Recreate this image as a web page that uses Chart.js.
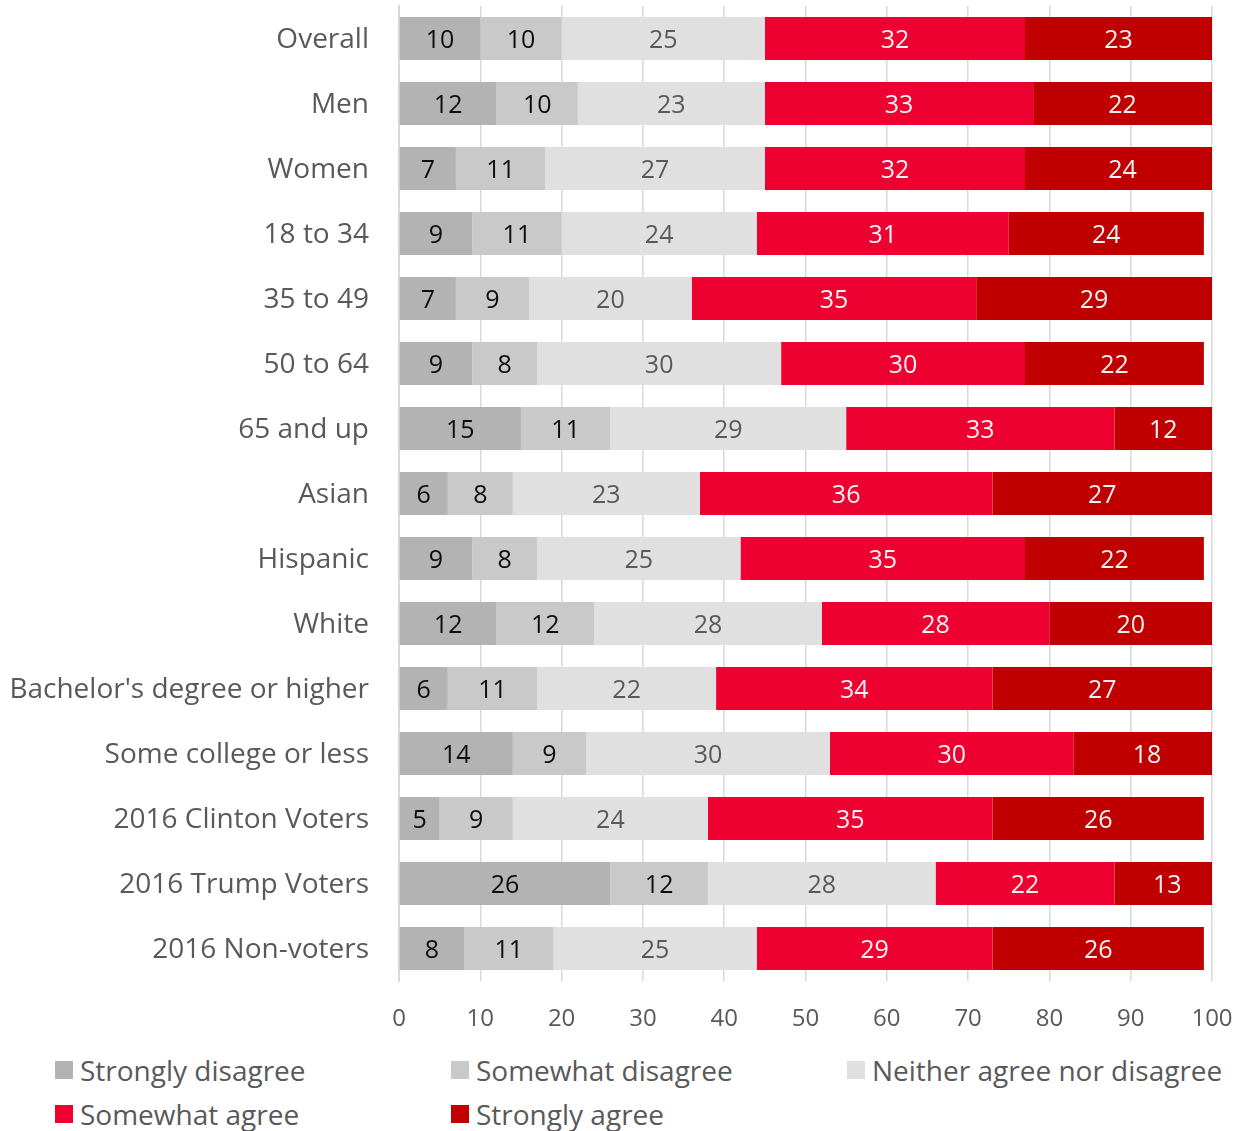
<!DOCTYPE html>
<html>
<head>
<meta charset="utf-8">
<script src="https://cdn.jsdelivr.net/npm/chart.js@4.4.1/dist/chart.umd.min.js"></script>
<style>
  html, body { margin: 0; padding: 0; background: #fff; }
  body { width: 1245px; height: 1131px; position: relative; font-family: 'Open Sans', sans-serif; }
  #wrap { position: absolute; left: 0; top: 0; width: 1245px; height: 1045px; }
  #legend { position: absolute; left: 55px; top: 1052px; width: 1190px; display: grid;
    grid-template-columns: 396px 396px 396px; row-gap: 8px; }
  .item { display: flex; align-items: center; font-size: 28px; color: #595959; height: 36px; white-space: nowrap; }
  .box { width: 18px; height: 18px; margin-right: 7px; flex: none; }
</style>
</head>
<body>
<div id="wrap"><canvas id="chart"></canvas></div>
<div id="legend"></div>
<script>
const groups = [
  'Overall', 'Men', 'Women', '18 to 34', '35 to 49', '50 to 64', '65 and up',
  'Asian', 'Hispanic', 'White', "Bachelor's degree or higher", 'Some college or less',
  '2016 Clinton Voters', '2016 Trump Voters', '2016 Non-voters',
];

const stronglyDisagree = [10, 12, 7, 9, 7, 9, 15, 6, 9, 12, 6, 14, 5, 26, 8];
const somewhatDisagree = [10, 10, 11, 11, 9, 8, 11, 8, 8, 12, 11, 9, 9, 12, 11];
const neither = [25, 23, 27, 24, 20, 30, 29, 23, 25, 28, 22, 30, 24, 28, 25];
const somewhatAgree = [32, 33, 32, 31, 35, 30, 33, 36, 35, 28, 34, 30, 35, 22, 29];
const stronglyAgree = [23, 22, 24, 24, 29, 22, 12, 27, 22, 20, 27, 18, 26, 13, 26];

const xTicks = [0, 10, 20, 30, 40, 50, 60, 70, 80, 90, 100];

const series = [
  { label: 'Strongly disagree', data: stronglyDisagree, color: '#b3b3b3', text: '#0d0d0d' },
  { label: 'Somewhat disagree', data: somewhatDisagree, color: '#c9c9c9', text: '#0d0d0d' },
  { label: 'Neither agree nor disagree', data: neither, color: '#e0e0e0', text: '#595959' },
  { label: 'Somewhat agree', data: somewhatAgree, color: '#ee0030', text: '#f2f2f2' },
  { label: 'Strongly agree', data: stronglyAgree, color: '#c00000', text: '#f2f2f2' },
];

// value labels centred in each segment
const segmentLabels = {
  id: 'segmentLabels',
  afterDatasetsDraw(chart) {
    const ctx = chart.ctx;
    ctx.save();
    ctx.font = '25px "Open Sans"';
    ctx.textAlign = 'center';
    ctx.textBaseline = 'middle';
    chart.data.datasets.forEach((ds, i) => {
      const meta = chart.getDatasetMeta(i);
      ctx.fillStyle = series[i].text;
      meta.data.forEach((bar, j) => {
        const cx = (bar.x + bar.base) / 2;
        ctx.fillText(String(ds.data[j]), cx, bar.y + 2);
      });
    });
    ctx.restore();
  },
};

const chart = new Chart(document.getElementById('chart'), {
  type: 'bar',
  data: {
    labels: groups,
    datasets: series.map((s) => ({
      label: s.label,
      data: s.data,
      backgroundColor: s.color,
      borderWidth: 0,
      barPercentage: 0.66,
      categoryPercentage: 1,
    })),
  },
  options: {
    indexAxis: 'y',
    responsive: true,
    maintainAspectRatio: false,
    animation: false,
    layout: { padding: { top: 6, right: 33, left: 0, bottom: 0 } },
    plugins: {
      legend: { display: false },
      tooltip: { enabled: false },
    },
    scales: {
      x: {
        stacked: true,
        min: 0,
        max: 100,
        afterBuildTicks: (scale) => { scale.ticks = xTicks.map((v) => ({ value: v })); },
        grid: { color: '#d9d9d9', lineWidth: 1.5, drawTicks: false },
        border: { display: false },
        ticks: { color: '#595959', font: { family: 'Open Sans', size: 24 }, padding: 24 },
        afterFit: (scale) => {
          scale.height = 64;
          scale.paddingLeft = 0;
          scale.paddingRight = 0;
          scale.paddingTop = 0;
          scale.paddingBottom = 0;
        },
      },
      y: {
        stacked: true,
        grid: { display: false },
        border: { display: true, color: '#d9d9d9', width: 2 },
        ticks: { color: '#595959', font: { family: 'Open Sans', size: 28 }, padding: 22, labelOffset: 2 },
        afterFit: (scale) => {
          scale.width = 399;
          scale.paddingTop = 0;
          scale.paddingBottom = 0;
          scale.paddingLeft = 0;
          scale.paddingRight = 0;
        },
      },
    },
  },
  plugins: [segmentLabels],
});

// legend built from the chart's datasets
const legend = document.getElementById('legend');
chart.data.datasets.forEach((ds) => {
  const item = document.createElement('div');
  item.className = 'item';
  item.innerHTML = `<span class="box" style="background:${ds.backgroundColor}"></span>${ds.label}`;
  legend.appendChild(item);
});
</script>
</body>
</html>
